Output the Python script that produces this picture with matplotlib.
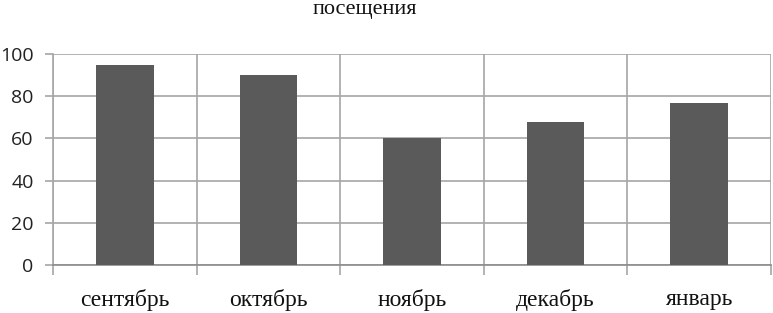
import matplotlib
matplotlib.use("Agg")
import matplotlib.pyplot as plt
import numpy as np

categories = ["сентябрь", "октябрь", "ноябрь", "декабрь", "январь"]
values = [95, 90, 60, 68, 77]
yticks = [0, 20, 40, 60, 80, 100]
title = "посещения"

fig = plt.figure(figsize=(7.73, 3.13), dpi=100)
ax = fig.add_axes([53/773, 48/313, 718/773, 211/313])

x = np.arange(len(categories))
ax.bar(x, values, width=0.4, color="#5a5a5a", zorder=3)
ax.set_xlim(-0.5, len(categories) - 0.5)
ax.set_ylim(0, 100)

grid_c = "#a6a6a6"
ax.set_yticks(yticks)
ax.set_yticklabels([str(v) for v in yticks], fontfamily="Open Sans", fontsize=14, color="#222222")
ax.yaxis.grid(True, color=grid_c, linewidth=1.2, zorder=0)
ax.tick_params(axis="y", length=6, color=grid_c, width=1.2, pad=8)

# category boundaries as minor ticks + vertical gridlines
bounds = np.arange(len(categories) + 1) - 0.5
ax.set_xticks(bounds, minor=True)
ax.set_xticks(x)
ax.set_xticklabels(categories, fontfamily="Liberation Serif", fontsize=17, color="#111111")
ax.tick_params(axis="x", which="major", length=0, pad=17)
ax.tick_params(axis="x", which="minor", length=7, color=grid_c, width=1.2)
for b in bounds:
    ax.axvline(b, color=grid_c, linewidth=1.2, zorder=0)

for s in ["top", "right"]:
    ax.spines[s].set_visible(False)
ax.spines["left"].set_color(grid_c)
ax.spines["bottom"].set_color("#8c8c8c")
ax.spines["left"].set_linewidth(1.2)
ax.spines["bottom"].set_linewidth(1.2)

fig.text(365/773, 1 - 14/313, title, fontfamily="Liberation Serif", fontsize=16,
         ha="center", va="baseline", color="#111111")

fig.savefig("out.png", dpi=100)
